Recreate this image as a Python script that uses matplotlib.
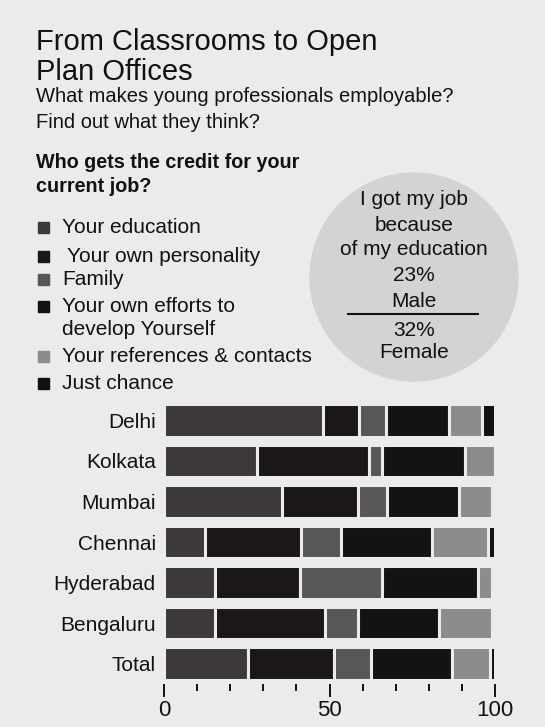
import numpy as np
import matplotlib
matplotlib.use('Agg')
import matplotlib.pyplot as plt
from matplotlib.patches import Circle, Rectangle

plt.rcParams['font.family'] = ['Liberation Sans', 'DejaVu Sans']

# Share of respondents (%) crediting each factor
categories = ['Delhi', 'Kolkata', 'Mumbai', 'Chennai', 'Hyderabad', 'Bengaluru', 'Total']
education = [48, 28, 35.5, 12.5, 15.5, 15.5, 25.5]
personality = [11, 34, 23, 29, 25.5, 33, 26]
family = [8, 4, 9, 12, 25, 10, 11]
efforts = [19, 25, 21.5, 27.5, 29, 24.5, 24.5]
references = [10, 9, 10, 17, 4, 16, 11.5]
chance = [4, 0, 1, 2, 1, 1, 1.5]

factor_labels = ['Your education', 'Your own personality', 'Family',
                 'Your own efforts to', 'Your references & contacts', 'Just chance']
colors = ['#3d3938', '#1a1716', '#595656', '#151312', '#8d8c8c', '#121010']

circle_lines = ['I got my job', 'because', 'of my education', '23%', 'Male']
circle_lines_below = ['32%', 'Female']

BG = '#ebebea'
INK = '#111111'

fig = plt.figure(figsize=(5.45, 7.27), dpi=100, facecolor=BG)

# overlay in pixel coordinates for the text block, legend and circle
ov = fig.add_axes([0, 0, 1, 1], zorder=0)
ov.set_xlim(0, 545)
ov.set_ylim(727, 0)
ov.axis('off')

ov.text(36, 50, 'From Classrooms to Open', fontsize=21, va='baseline', color=INK)
ov.text(36, 80, 'Plan Offices', fontsize=21, va='baseline', color=INK)
ov.text(36, 102, 'What makes young professionals employable?', fontsize=14.5,
        va='baseline', color=INK)
ov.text(36, 128, 'Find out what they think?', fontsize=14.5, va='baseline', color=INK)
ov.text(36, 168, 'Who gets the credit for your', fontsize=14.2, fontweight='bold',
        va='baseline', color=INK)
ov.text(36, 192, 'current job?', fontsize=14.2, fontweight='bold', va='baseline', color=INK)

# legend
leg_y = [233, 262, 285, 312, 362, 389]
leg_x = [62, 67, 62, 62, 62, 62]
for y, x, lab, c in zip(leg_y, leg_x, factor_labels, colors):
    ov.add_patch(Rectangle((38, y - 11), 11, 11, color=c))
    ov.text(x, y, lab, fontsize=15, va='baseline', color=INK)
ov.text(62, 335, 'develop Yourself', fontsize=15, va='baseline', color=INK)

# circle call-out
ov.add_patch(Circle((414, 277), 104, color='#d3d3d2', zorder=0))
for y, s in zip([205, 231, 255, 281, 307], circle_lines):
    ov.text(414, y, s, fontsize=15, ha='center', va='baseline', color=INK)
ov.plot([348, 478], [314, 314], color=INK, lw=1.5)
for y, s in zip([336, 358], circle_lines_below):
    ov.text(414, y, s, fontsize=15, ha='center', va='baseline', color=INK)

# stacked bars
ax = fig.add_axes([164 / 545, 43 / 727, 331 / 545, 284 / 727], zorder=1)
ax.patch.set_alpha(0)
series = [education, personality, family, efforts, references, chance]
y = np.arange(len(categories))
left = np.zeros(len(categories))
for vals, c in zip(series, colors):
    vals = np.array(vals, dtype=float)
    ax.barh(y, vals, left=left, height=0.8, color=c, edgecolor=BG, linewidth=2.2)
    left += vals

ax.set_ylim(6.5, -0.5)
ax.set_xlim(0, 100)
ax.set_yticks(y)
ax.set_yticklabels(categories, fontsize=15, color=INK)
ax.tick_params(axis='y', length=0, pad=6)
ax.set_xticks([0, 50, 100])
ax.set_xticks([10, 20, 30, 40, 60, 70, 80, 90], minor=True)
ax.tick_params(axis='x', which='major', length=9.5, width=1.4, labelsize=16, pad=2, colors=INK)
ax.tick_params(axis='x', which='minor', length=5, width=1.4, colors=INK)
for sp in ax.spines.values():
    sp.set_visible(False)

fig.savefig('out.png', dpi=100, facecolor=BG)
